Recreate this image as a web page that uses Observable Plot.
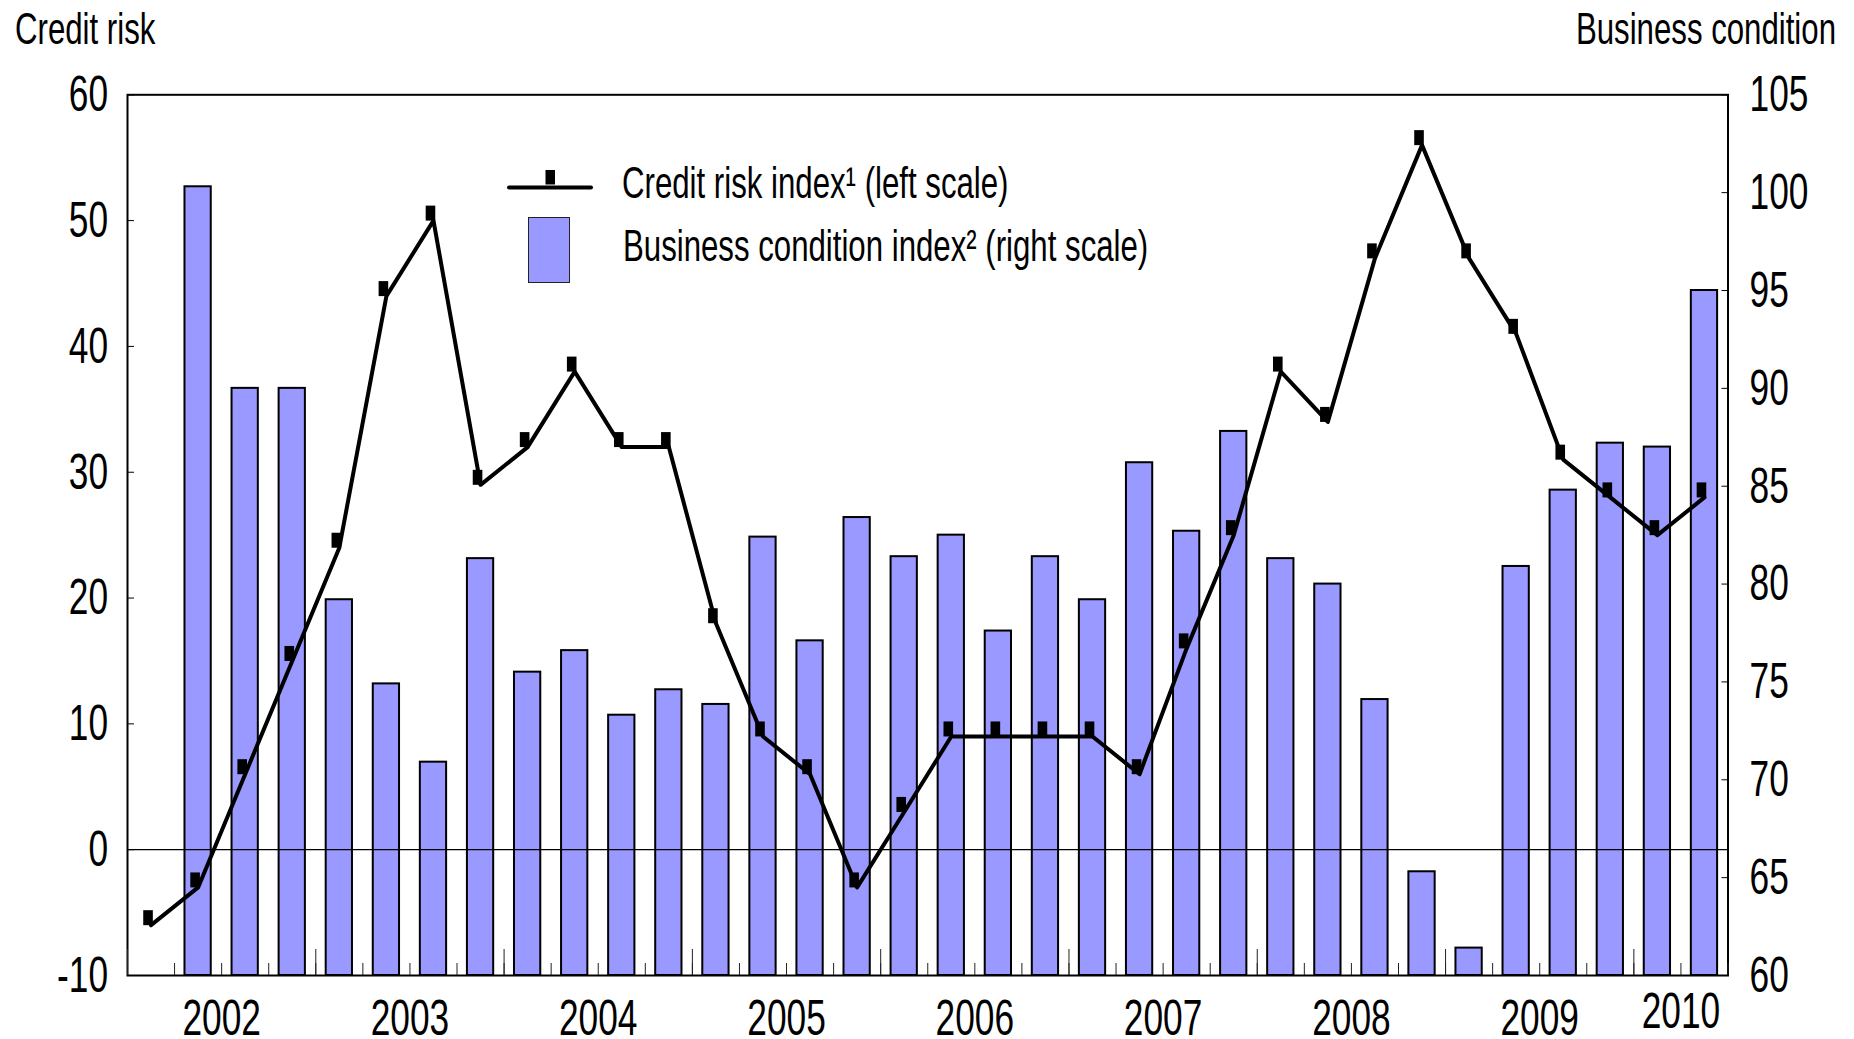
<!DOCTYPE html>
<html>
<head>
<meta charset="utf-8">
<script src="https://cdn.jsdelivr.net/npm/d3@7"></script>
<script src="https://cdn.jsdelivr.net/npm/@observablehq/plot@0.6"></script>
<style>
  html, body { margin: 0; padding: 0; background: #fff; }
  #wrap { position: relative; width: 1854px; height: 1039px; overflow: hidden; color: #000;
          font-family: 'Liberation Sans', Arial, sans-serif; }
  #header { height: 60px; }
  .t { position: absolute; font-size: 31.2px; line-height: 31.2px; white-space: nowrap;
       transform: scaleY(1.44); transform-origin: 0 0; }
  #legend-line { position: absolute; left: 500px; top: 160px; }
  #legend-bar { position: absolute; left: 528px; top: 217px; width: 40px; height: 64px;
                background: #9999FF; border: 1.5px solid #222; }
</style>
</head>
<body>
<div id="wrap">
  <div id="header"></div>
  <div class="t" style="left:15px; top:7px;">Credit risk</div>
  <div class="t" style="right:18px; top:7px; transform-origin: 100% 0;">Business condition</div>
  <div id="chart"></div>
  <svg id="legend-line" width="100" height="40">
    <line x1="9" x2="91" y1="27.5" y2="27.5" stroke="#000" stroke-width="4" stroke-linecap="round"></line>
    <rect x="45.5" y="10" width="9.5" height="14.5" fill="#000"></rect>
  </svg>
  <div class="t" style="left:622px; top:161px;">Credit risk index¹ (left scale)</div>
  <div id="legend-bar"></div>
  <div class="t" style="left:623px; top:224px;">Business condition index² (right scale)</div>
</div>
<script>
// ---------------- data ----------------
const quarters = [
  "2002Q1","2002Q2","2002Q3","2002Q4",
  "2003Q1","2003Q2","2003Q3","2003Q4",
  "2004Q1","2004Q2","2004Q3","2004Q4",
  "2005Q1","2005Q2","2005Q3","2005Q4",
  "2006Q1","2006Q2","2006Q3","2006Q4",
  "2007Q1","2007Q2","2007Q3","2007Q4",
  "2008Q1","2008Q2","2008Q3","2008Q4",
  "2009Q1","2009Q2","2009Q3","2009Q4",
  "2010Q1","2010Q2"
];
// Credit risk index (left scale)
const creditRisk = [
  -6, -3, 6, 15,
  24, 44, 50, 29,
  32, 38, 32, 32,
  18, 9, 6, -3,
  3, 9, 9, 9,
  9, 6, 16, 25,
  38, 34, 47, 56,
  47, 41, 31, 28,
  25, 28
];
// Business condition index (right scale)
const businessCondition = [
  null, 100.3, 90.0, 90.0,
  79.2, 74.9, 70.9, 81.3,
  75.5, 76.6, 73.3, 74.6,
  73.85, 82.4, 77.1, 83.4,
  81.4, 82.5, 77.6, 81.4,
  79.2, 86.2, 82.7, 87.8,
  81.3, 80.0, 74.1, 65.3,
  61.4, 80.9, 84.8, 87.2,
  87.0, 95.0
];
const leftTicks = [-10, 0, 10, 20, 30, 40, 50, 60];
const rightTicks = [60, 65, 70, 75, 80, 85, 90, 95, 100, 105];
const yearLabels = ["2002","2003","2004","2005","2006","2007","2008","2009","2010"];

// ---------------- helpers ----------------
const FONT = "'Liberation Sans', Arial, sans-serif";
const FS = 35.3;   // tick label font size
const SY = 1.44;   // vertical stretch of the type, as in the original
const LEFT = [leftTicks[0], leftTicks[leftTicks.length - 1]];
const RIGHT = [rightTicks[0], rightTicks[rightTicks.length - 1]];
const toLeft = v => LEFT[0] + (v - RIGHT[0]) * (LEFT[1] - LEFT[0]) / (RIGHT[1] - RIGHT[0]);
const toRight = v => RIGHT[0] + (v - LEFT[0]) * (RIGHT[1] - RIGHT[0]) / (LEFT[1] - LEFT[0]);

const data = quarters.map((q, i) => {
  const yr = +q.slice(0, 4), k = +q.slice(5);
  return {q, start: yr + (k - 1) / 4, end: yr + k / 4, mid: yr + (k - 0.5) / 4,
          cr: creditRisk[i], bc: businessCondition[i]};
});
const bars = data.filter(d => d.bc != null);
const boundaries = [data[0].start, ...data.map(d => d.end)];
const yearStarts = boundaries.filter(b => Number.isInteger(b));
const yearMids = yearLabels.map(y => {
  const qs = data.filter(d => d.q.startsWith(y));
  return (qs[0].start + qs[qs.length - 1].end) / 2;
});

// tall rectangular marker
const tallRect = {
  draw(ctx, size) {
    const r = Math.sqrt(size / Math.PI), w = r * 0.64, h = r;
    ctx.moveTo(-w, -h); ctx.lineTo(w, -h); ctx.lineTo(w, h); ctx.lineTo(-w, h); ctx.closePath();
  }
};

const chart = Plot.plot({
  width: 1854, height: 979,
  marginTop: 34.3, marginBottom: 64, marginLeft: 127, marginRight: 126.5,
  style: {fontFamily: FONT, fontSize: FS + "px", color: "#000", background: "transparent", overflow: "visible"},
  x: {domain: [boundaries[0], boundaries[boundaries.length - 1]]},
  y: {domain: LEFT},
  marks: [
    Plot.rect(bars, {x1: "start", x2: "end", y1: LEFT[0], y2: d => toLeft(d.bc),
      insetLeft: 10.4, insetRight: 10.4, fill: "#9999FF", stroke: "#000", strokeWidth: 2}),
    Plot.ruleY([0], {stroke: "#000", strokeWidth: 1.2}),
    Plot.frame({stroke: "#000", strokeWidth: 2}),
    Plot.line(data, {x: "mid", y: "cr", stroke: "#000", strokeWidth: 4}),
    Plot.dot(data, {x: "mid", y: "cr", symbol: tallRect, r: 7.5, fill: "#000", stroke: "none", dx: -3, dy: -7.5}),
    Plot.axisY(leftTicks, {anchor: "left", tickSize: -7, tickPadding: 26.4, fontSize: FS, label: null, tickFormat: d => String(d)}),
    Plot.axisY(rightTicks.map(toLeft), {anchor: "right", tickSize: -7, tickPadding: 28.5, fontSize: FS, label: null,
      tickFormat: d => String(Math.round(toRight(d)))}),
    Plot.axisX(boundaries, {anchor: "bottom", tickSize: -12, tickFormat: () => "", label: null, stroke: "#222"}),
    Plot.axisX(yearStarts, {anchor: "bottom", tickSize: -26, tickFormat: () => "", label: null, stroke: "#222"}),
    Plot.axisX(yearMids.slice(0, -1), {anchor: "bottom", tickSize: 0, tickPadding: 23, fontSize: FS, label: null,
      tickFormat: d => String(Math.floor(d))}),
    Plot.axisX(yearMids.slice(-1), {anchor: "bottom", tickSize: 0, tickPadding: 23, dy: -6.7, fontSize: FS, label: null,
      tickFormat: d => String(Math.floor(d))})
  ]
});

chart.querySelectorAll("text").forEach(t => {
  const tr = t.getAttribute("transform");
  if (tr) { t.setAttribute("transform", tr + ` scale(1,${SY})`); return; }
  const x = parseFloat(t.getAttribute("x") || 0);
  const yAttr = t.getAttribute("y") || "0";
  const yIsEm = /em$/.test(yAttr);
  const y = yIsEm ? 0 : parseFloat(yAttr);
  t.removeAttribute("x");
  if (!yIsEm) t.removeAttribute("y");
  t.setAttribute("transform", `translate(${x},${y}) scale(1,${SY})`);
});
document.getElementById("chart").appendChild(chart);
</script>
</body>
</html>
